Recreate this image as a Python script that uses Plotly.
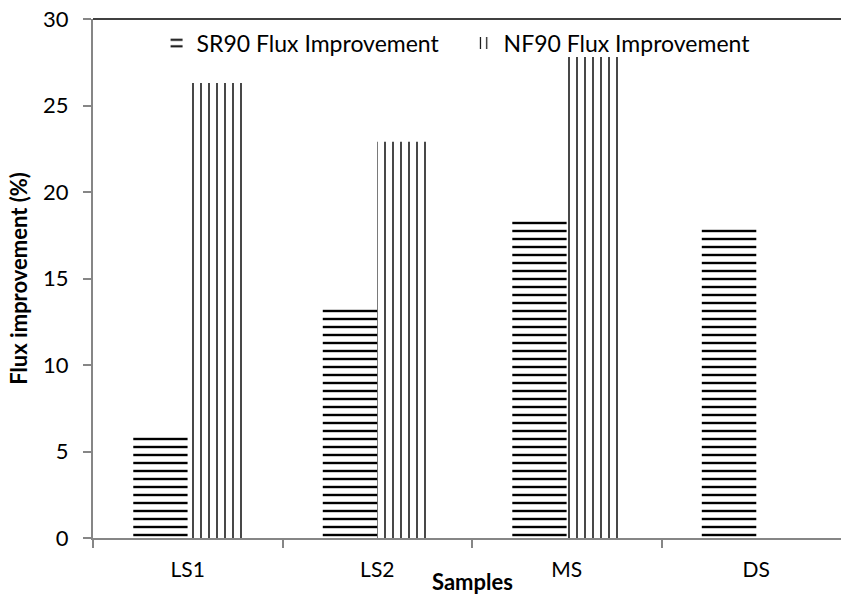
import plotly.graph_objects as go

# Flux improvement of each sample for the two membranes
samples = ["LS1", "LS2", "MS", "DS"]
sr90_flux = [6.0, 13.3, 18.4, 18.0]
nf90_flux = [26.3, 22.9, 27.8, None]
y_ticks = [0, 5, 10, 15, 20, 25, 30]

FONT = "Lato"
AXIS_GREY = "#868686"

fig = go.Figure()
fig.add_trace(go.Bar(
    x=samples, y=sr90_flux, name="SR90 Flux Improvement",
    marker=dict(color="white", line=dict(width=0),
                pattern=dict(shape="-", fgcolor="black", bgcolor="white",
                             size=8, solidity=0.3, fillmode="replace")),
))
fig.add_trace(go.Bar(
    x=samples, y=nf90_flux, name="NF90 Flux Improvement",
    marker=dict(color="white", line=dict(width=0),
                pattern=dict(shape="|", fgcolor="black", bgcolor="white",
                             size=8, solidity=0.18, fillmode="replace")),
))

fig.update_layout(
    width=841, height=595,
    margin=dict(l=93, r=0, t=19, b=57),
    paper_bgcolor="white", plot_bgcolor="white",
    barmode="group", bargap=0.425, bargroupgap=0,
    font=dict(family=FONT, size=21, color="black"),
    showlegend=True,
    legend=dict(orientation="h", x=0.085, y=0.995, xanchor="left", yanchor="top",
                font=dict(family=FONT, size=23, color="black"),
                bgcolor="rgba(0,0,0,0)", itemwidth=30,
                entrywidthmode="pixels", entrywidth=262,
                traceorder="normal", itemclick=False),
    xaxis=dict(
        type="category", range=[-0.5, 3.447],
        showline=True, linecolor=AXIS_GREY, linewidth=2,
        ticks="outside", tickson="boundaries", ticklen=8,
        tickcolor=AXIS_GREY, tickwidth=2,
        showgrid=False, zeroline=False,
        tickfont=dict(family=FONT, size=21, color="black"),
        ticklabelstandoff=12,
    ),
    yaxis=dict(
        range=[0, 30], tickvals=y_ticks,
        showline=True, linecolor=AXIS_GREY, linewidth=2,
        ticks="outside", ticklen=8, tickcolor=AXIS_GREY, tickwidth=2,
        showgrid=False, zeroline=False,
        tickfont=dict(family=FONT, size=22, color="black"),
        ticklabelstandoff=10,
        title=dict(text="<b>Flux improvement (%)</b>",
                   font=dict(family=FONT, size=22, color="black"),
                   standoff=9),
    ),
    shapes=[dict(type="line", xref="paper", yref="paper",
                 x0=0, x1=1, y0=1, y1=1,
                 line=dict(color="black", width=1.5))],
    annotations=[dict(text="<b>Samples</b>", xref="x", yref="paper",
                      x=1.5, y=(538 - 581) / 519, xanchor="center",
                      yanchor="middle", showarrow=False,
                      font=dict(family=FONT, size=22, color="black"))],
)

fig.write_html("out.html")
